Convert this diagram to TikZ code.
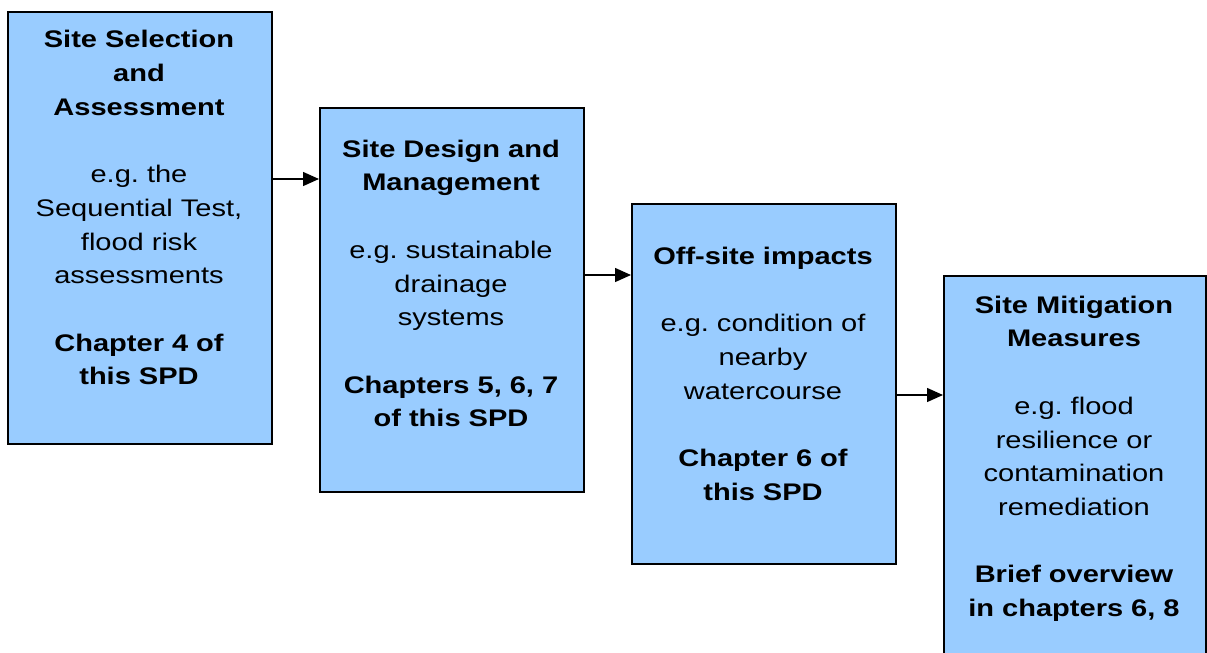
\documentclass[tikz,border=0pt]{standalone}
\usepackage{fontspec}
\setmainfont{Liberation Sans}[FakeStretch=1.21]
\usetikzlibrary{arrows.meta}
\definecolor{boxblue}{HTML}{99CCFF}
\frenchspacing
\tikzset{
  stage/.style={draw=black, fill=boxblue, line width=1.6pt, anchor=north west, inner sep=0pt},
  stagetext/.style={anchor=north, inner sep=0pt, text width=250pt, align=center,
    font=\fontsize{24}{33.7}\selectfont},
  arr/.style={line width=1.4pt, -{Triangle[length=16pt,width=14pt]}}
}
\newcommand{\firstline}{\rule{0pt}{24pt}}
\begin{document}
\begin{tikzpicture}[x=1pt,y=-1pt]
\clip (0,0) rectangle (1207,653);
\fill[white] (0,0) rectangle (1207,653);
% boxes
\node[stage, minimum width=264pt, minimum height=432pt] (b1) at (7,11) {};
\node[stage, minimum width=264pt, minimum height=384pt] (b2) at (319,107) {};
\node[stage, minimum width=264pt, minimum height=360pt] (b3) at (631,203) {};
\node[stage, minimum width=262pt, minimum height=420pt] (b4) at (943,275) {};
% texts
\node[stagetext] (t1) at (139,23.7) {\firstline\textbf{Site Selection\\and\\Assessment}\\[33.7pt]
  e.g. the\\Sequential Test,\\flood risk\\assessments\\[33.7pt]
  \textbf{Chapter 4 of\\this SPD}};
\node[stagetext] (t2) at (451,133) {\firstline\textbf{Site Design and\\Management}\\[33.7pt]
  e.g. sustainable\\drainage\\systems\\[33.7pt]
  \textbf{Chapters 5, 6, 7\\of this SPD}};
\node[stagetext] (t3) at (763,240) {\firstline\textbf{Off-site impacts}\\[33.7pt]
  e.g. condition of\\nearby\\watercourse\\[33.7pt]
  \textbf{Chapter 6 of\\this SPD}};
\node[stagetext] (t4) at (1074,289) {\firstline\textbf{Site Mitigation\\Measures}\\[33.7pt]
  e.g. flood\\resilience or\\contamination\\remediation\\[33.7pt]
  \textbf{Brief overview\\in chapters 6, 8}};
% arrows
\coordinate (a1) at (0,179);
\coordinate (a2) at (0,275);
\coordinate (a3) at (0,395);
\draw[arr] (b1.east |- a1) -- (b2.west |- a1);
\draw[arr] (b2.east |- a2) -- (b3.west |- a2);
\draw[arr] (b3.east |- a3) -- (b4.west |- a3);
\end{tikzpicture}
\end{document}
